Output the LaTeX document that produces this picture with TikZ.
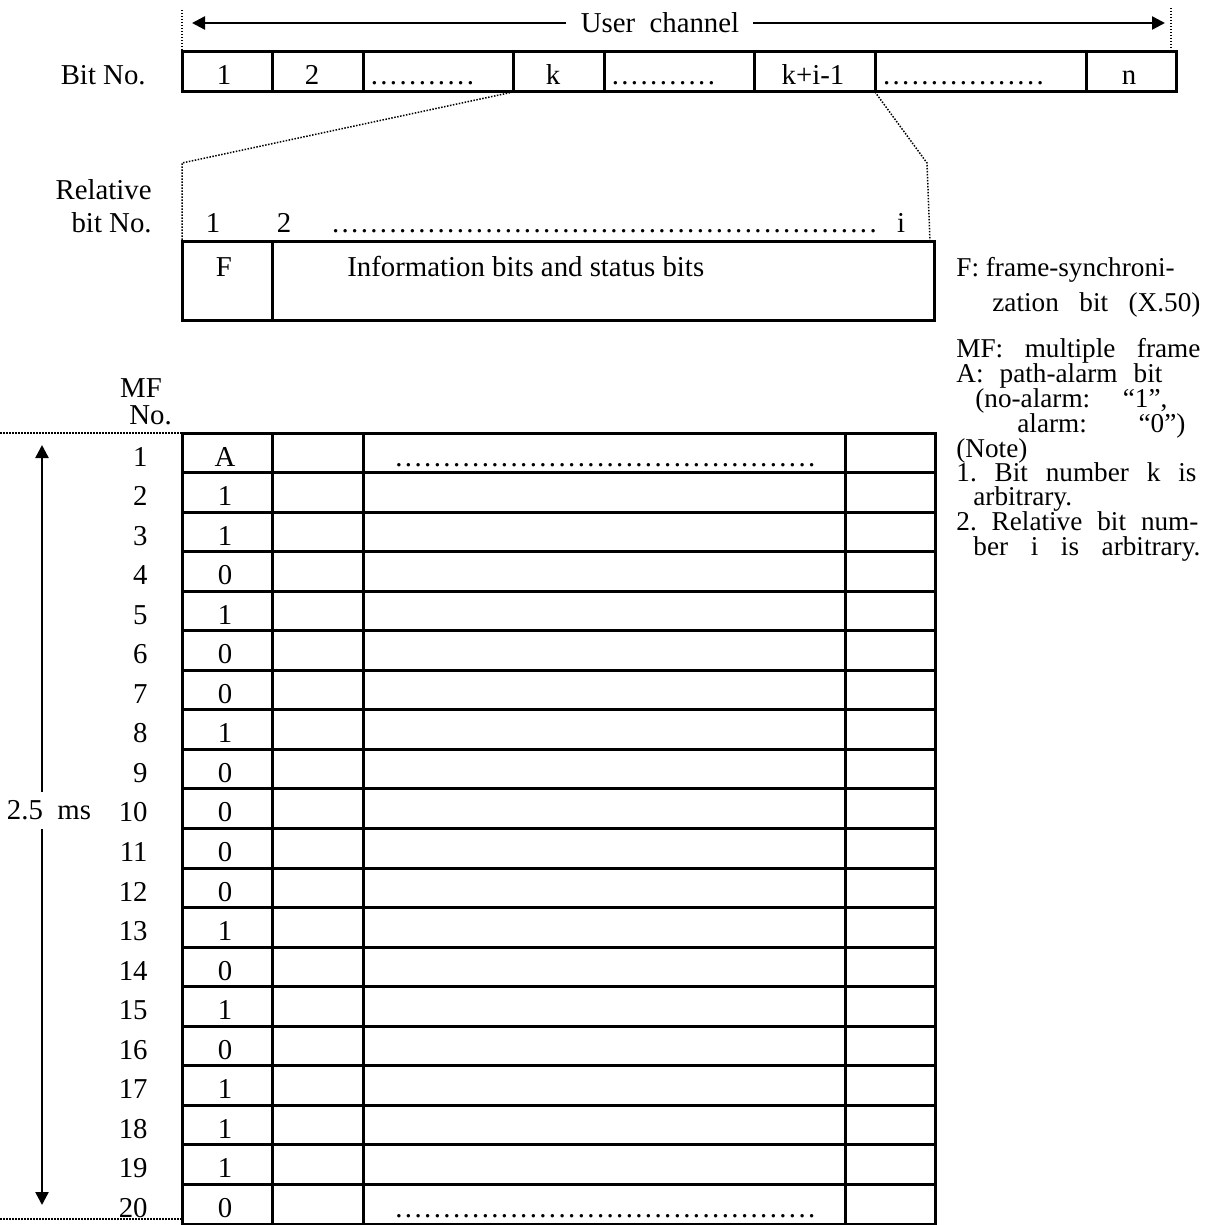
\documentclass[tikz,border=0pt]{standalone}
\usepackage{fontspec}
\setmainfont{Liberation Serif}
\usetikzlibrary{arrows.meta}
\frenchspacing
\newcommand{\dotrun}[1]{\hbox to #1{\cleaders\hbox to 4.8pt{\hss.\hss}\hfill}}
\begin{document}
\begin{tikzpicture}[x=0.5pt,y=-0.5pt,
  txt/.style={inner sep=0pt, font=\fontsize{14.4}{16}\selectfont\frenchspacing},
  tb/.style={txt, anchor=base},
  tw/.style={txt, anchor=base west},
  te/.style={txt, anchor=base east},
  lg/.style={tw, font=\fontsize{13.6}{15}\selectfont\frenchspacing},
  box/.style={line width=1.5pt},
  dotl/.style={line width=0.75pt, dash pattern=on 0.75pt off 0.75pt},
  arr/.style={line width=1.2pt, -{Triangle[length=6.5pt,width=6.5pt]}},
]
\useasboundingbox (0,0) rectangle (1204,1225);

% ---------- User channel ----------
\coordinate (ucL) at (566,23);
\coordinate (ucR) at (753,23);
\coordinate (tipL) at (192,23);
\coordinate (tipR) at (1165,23);
\node[tb] (uc) at (660,33) {User\ \ channel};
\draw[arr] (ucL) -- (tipL);
\draw[arr] (ucR) -- (tipR);
\draw[dotl] (182,10) -- (182,52);
\draw[dotl] (1171,8) -- (1171,52);

% ---------- Bit No. row ----------
\node[te] (bitno) at (146,85) {Bit No.};
\draw[box] (182,52) rectangle (1176,92);
\foreach \x in {272,363,513,604,754,875,1086} \draw[box] (\x,52) -- (\x,92);
\node[tb] (b1) at (224,85) {1};
\node[tb] (b2) at (312,85) {2};
\node[tw] (bd1) at (367,85) {\dotrun{55pt}};
\node[tb] (bk) at (553,85) {k};
\node[tw] (bd2) at (609,85) {\dotrun{54pt}};
\node[tb] (bki) at (813,85) {k+i-1};
\node[tw] (bd3) at (881,85) {\dotrun{82pt}};
\node[tb] (bn) at (1129,85) {n};

% ---------- zoom lines ----------
\draw[dotl] (513,92) -- (182,163) -- (182,242);
\draw[dotl] (875,92) -- (927,163) -- (930,242);

% ---------- Relative bit No. ----------
\node[te] (rel1) at (152,199) {Relative};
\node[te] (rel2) at (152,233) {bit No.};
\node[tb] (r1) at (213,233) {1};
\node[tb] (r2) at (284,233) {2};
\node[tw] (rd) at (326,233) {\dotrun{278pt}};
\node[tb] (ri) at (901,233) {i};

\draw[box] (182,242) rectangle (934,320);
\draw[box] (272,242) -- (272,320);
\node[tb] (fF) at (224,277) {F};
\node[tw] (info) at (347,277) {Information bits and status bits};

% ---------- legend ----------
\node[lg] (l1) at (956,277) {F: frame-synchroni-};
\node[lg] (l2) at (992,311) {\makebox[104pt][s]{zation bit (X.50)}};
\node[lg] (l3) at (956,357) {\makebox[122pt][s]{MF: multiple frame}};
\node[lg] (l4) at (956,382) {\makebox[103pt][s]{A: path-alarm bit}};
\node[lg] (l5) at (975,407) {\makebox[96pt][s]{(no-alarm: “1",}};
\node[lg] (l6) at (1017,432) {\makebox[84pt][s]{alarm: “0")}};
\node[lg] (l7) at (956,457) {(Note)};
\node[lg] (l8) at (956,481) {\makebox[120pt][s]{1. Bit number k is}};
\node[lg] (l9) at (973,505) {arbitrary.};
\node[lg] (l10) at (956,530) {\makebox[121pt][s]{2. Relative bit num-}};
\node[lg] (l11) at (973,555) {\makebox[113.5pt][s]{ber i is arbitrary.}};

% ---------- MF table ----------
\node[tb] (mf1) at (141,397) {MF};
\node[tw] (mf2) at (129,424) {No.};
\draw[dotl] (0,433) -- (182,433);
\draw[dotl] (0,1219) -- (182,1219);

\def\rh{39.55}
\draw[box] (182,433) rectangle (935,1224);
\foreach \x in {272,363,845} \draw[box] (\x,433) -- (\x,1224);
\foreach \i in {1,...,19} \draw[box] (182,433+\i*\rh) -- (935,433+\i*\rh);

\foreach \i/\v in {1/A,2/1,3/1,4/0,5/1,6/0,7/0,8/1,9/0,10/0,11/0,12/0,13/1,14/0,15/1,16/0,17/1,18/1,19/1,20/0} {
  \node[te] (n\i) at (148,433+\i*\rh-\rh+33) {\i};
  \node[tb] (v\i) at (225,433+\i*\rh-\rh+33) {\v};
}
\node[tw] (td1) at (393,466) {\dotrun{212pt}};
\node[tw] (td20) at (393,433+19*\rh+33) {\dotrun{212pt}};

% ---------- 2.5 ms arrow ----------
\coordinate (ttip) at (42,445);
\coordinate (btip) at (42,1205);
\coordinate (dtop) at (42,792);
\coordinate (dbot) at (42,829);
\node[tb] (dur) at (49,819) {2.5\ \ ms};
\draw[arr] (dtop) -- (ttip);
\draw[arr] (dbot) -- (btip);
\end{tikzpicture}
\end{document}
